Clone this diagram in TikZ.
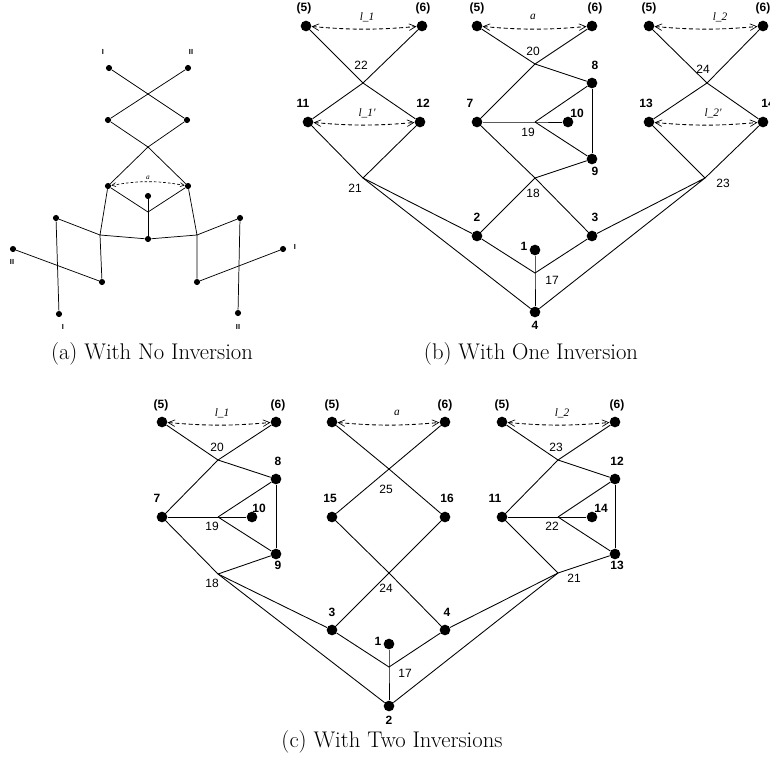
\documentclass[tikz,border=0pt]{standalone}
\usepackage{fontspec}
\newfontfamily\hv{Liberation Sans}
\newfontfamily\tm{Liberation Serif}
\usetikzlibrary{arrows.meta}
\begin{document}
\begin{tikzpicture}[x=0.75pt,y=-0.75pt,
 dotb/.style={circle,fill,inner sep=0pt,minimum size=8pt},
 dota/.style={circle,fill,inner sep=0pt,minimum size=4.6pt},
 lab/.style={font=\hv\bfseries\fontsize{9}{10}\selectfont,inner sep=0pt},
 num/.style={font=\hv\fontsize{9}{10}\selectfont,inner sep=0pt},
 ital/.style={font=\tm\itshape\fontsize{8.5}{10}\selectfont,inner sep=0pt},
 alab/.style={font=\hv\bfseries\fontsize{5.5}{6}\selectfont,inner sep=0pt},
 aital/.style={font=\tm\itshape\fontsize{5.5}{6}\selectfont,inner sep=0pt},
 edge/.style={line width=0.65pt},
 aedge/.style={line width=0.55pt},
 dashar/.style={line width=0.65pt,dash pattern=on 3pt off 2pt,
   {Straight Barb[length=5pt,width=5pt,line width=0.5pt]}-{Straight Barb[length=5pt,width=5pt,line width=0.5pt]}},
 adashar/.style={line width=0.5pt,dash pattern=on 2pt off 1.5pt,
   {Straight Barb[length=3pt,width=3pt,line width=0.4pt]}-{Straight Barb[length=3pt,width=3pt,line width=0.4pt]}},
 captext/.style={font=\fontsize{17}{20}\selectfont,inner sep=0pt}
]
\useasboundingbox (0,0) rectangle (770,768);

% ================= Panel (a) =================
\node[dota] (a1) at (109,68) {};
\node[dota] (a2) at (188,68) {};
\node[dota] (a3) at (108,120) {};
\node[dota] (a4) at (187,120) {};
\node[dota] (a5) at (108,186) {};
\node[dota] (a6) at (188,186) {};
\node[dota] (a7) at (148,196) {};
\node[dota] (a8) at (148,239) {};
\node[dota] (a9) at (56,218) {};
\node[dota] (a10) at (59,314) {};
\node[dota] (a11) at (13,249) {};
\node[dota] (a12) at (102,282) {};
\node[dota] (a13) at (240,218) {};
\node[dota] (a14) at (238,313) {};
\node[dota] (a15) at (283,249) {};
\node[dota] (a16) at (197,282) {};
\coordinate (ax2) at (148,147);
\coordinate (aj1) at (148,212);
\coordinate (aj2) at (100,235);
\coordinate (aj3) at (197,235);
\draw[aedge] (a1) -- (a4);
\draw[aedge] (a2) -- (a3);
\draw[aedge] (a3) -- (ax2) -- (a6);
\draw[aedge] (a4) -- (ax2) -- (a5);
\draw[aedge] (a5) -- (aj1) -- (a6);
\draw[aedge] (a7) -- (a8);
\draw[aedge] (a5) -- (aj2) -- (a8) -- (aj3) -- (a6);
\draw[aedge] (a9) -- (aj2) -- (a12);
\draw[aedge] (a9) -- (a10);
\draw[aedge] (a11) -- (a12);
\draw[aedge] (a13) -- (aj3) -- (a16);
\draw[aedge] (a13) -- (a14);
\draw[aedge] (a15) -- (a16);
\draw[adashar] (a5) to[bend left=10] node[aital,above=1.5pt] (la) {a} (a6);
\node[alab] (lI1) at (103,52) {I};
\node[alab] (lII1) at (191,52) {II};
\node[alab] (lII2) at (12,262) {II};
\node[alab] (lI2) at (63,327) {I};
\node[alab] (lII3) at (238,327) {II};
\node[alab] (lI3) at (295,247) {I};
\node[captext] (capa) at (152,354) {(a) With No Inversion};

% ================= Panel (b) =================
\node[dotb] (b5a) at (306,26) {};
\node[dotb] (b6a) at (422,26) {};
\node[dotb] (b11) at (308,122) {};
\node[dotb] (b12) at (420,122) {};
\node[dotb] (b5b) at (477,26) {};
\node[dotb] (b6b) at (592,26) {};
\node[dotb] (b8) at (592,83) {};
\node[dotb] (b7) at (477,122) {};
\node[dotb] (b10) at (568,122) {};
\node[dotb] (b9) at (592,159) {};
\node[dotb] (b2) at (477,236) {};
\node[dotb] (b3) at (592,236) {};
\node[dotb] (b1) at (535,250) {};
\node[dotb] (b4) at (535,312) {};
\node[dotb] (b5c) at (649,26) {};
\node[dotb] (b6c) at (763,26) {};
\node[dotb] (b13) at (649,122) {};
\node[dotb] (b14) at (763,122) {};
\coordinate (j22) at (363,83);
\coordinate (j21) at (363,178);
\coordinate (j20) at (535,64);
\coordinate (j19) at (535,122);
\coordinate (j18) at (535,178);
\coordinate (j17) at (535,273);
\coordinate (j24) at (707,83);
\coordinate (j23) at (705,178);
\draw[edge] (b5a) -- (j22) -- (b12);
\draw[edge] (b6a) -- (j22) -- (b11);
\draw[edge] (b11) -- (j21) -- (b12);
\draw[edge] (j21) -- (b2);
\draw[edge] (j21) -- (b4);
\draw[edge] (b5b) -- (j20) -- (b8);
\draw[edge] (b6b) -- (j20) -- (b7);
\draw[edge] (b7) -- (j19) -- (b10);
\draw[edge] (j19) -- (b8);
\draw[edge] (j19) -- (b9);
\draw[edge] (b8) -- (b9);
\draw[edge] (b7) -- (j18) -- (b3);
\draw[edge] (j18) -- (b9);
\draw[edge] (j18) -- (b2);
\draw[edge] (b2) -- (j17) -- (b3);
\draw[edge] (b1) -- (j17) -- (b4);
\draw[edge] (b3) -- (j23) -- (b4);
\draw[edge] (b5c) -- (j24) -- (b14);
\draw[edge] (b6c) -- (j24) -- (b13);
\draw[edge] (b13) -- (j23) -- (b14);
\draw[dashar] (b5a) to[bend right=5] (b6a);
\draw[dashar] (b11) to[bend right=5] (b12);
\draw[dashar] (b5b) to[bend right=5] (b6b);
\draw[dashar] (b5c) to[bend right=5] (b6c);
\draw[dashar] (b13) to[bend right=5] (b14);
\node[ital] (tl1) at (367,17) {l\_1};
\node[ital] (tl1p) at (367,113) {l\_1'};
\node[ital] (ta1) at (533,17) {a};
\node[ital] (tl2) at (720,17) {l\_2};
\node[ital] (tl2p) at (713,113) {l\_2'};
\node[lab] (lb5a) at (304,8) {(5)};
\node[lab] (lb6a) at (423,8) {(6)};
\node[lab] (lb11) at (303,103) {11};
\node[lab] (lb12) at (423,103) {12};
\node[lab] (lb5b) at (477,8) {(5)};
\node[lab] (lb6b) at (595,8) {(6)};
\node[lab] (lb8) at (595,65) {8};
\node[lab] (lb7) at (470,103) {7};
\node[lab] (lb10) at (577,113) {10};
\node[lab] (lb9) at (595,171) {9};
\node[lab] (lb2) at (477,217) {2};
\node[lab] (lb3) at (595,217) {3};
\node[lab] (lb1) at (524,246) {1};
\node[lab] (lb4) at (535,325) {4};
\node[lab] (lb5c) at (649,8) {(5)};
\node[lab] (lb6c) at (763,8) {(6)};
\node[lab] (lb13) at (646,103) {13};
\node[lab] (lb14) at (768,103) {14};
\node[num] (nb22) at (361,65) {22};
\node[num] (nb21) at (355,188) {21};
\node[num] (nb20) at (533,51) {20};
\node[num] (nb19) at (528,132) {19};
\node[num] (nb18) at (533,193) {18};
\node[num] (nb17) at (552,280) {17};
\node[num] (nb24) at (703,69) {24};
\node[num] (nb23) at (723,183) {23};
\node[captext] (capb) at (531,354) {(b) With One Inversion};

% ================= Panel (c) =================
\node[dotb] (c5a) at (162,422) {};
\node[dotb] (c6a) at (276,422) {};
\node[dotb] (c8) at (276,479) {};
\node[dotb] (c7) at (162,517) {};
\node[dotb] (c10) at (252,517) {};
\node[dotb] (c9) at (276,554) {};
\node[dotb] (c5b) at (332,422) {};
\node[dotb] (c6b) at (445,422) {};
\node[dotb] (c15) at (332,517) {};
\node[dotb] (c16) at (445,517) {};
\node[dotb] (c3) at (332,630) {};
\node[dotb] (c4) at (445,630) {};
\node[dotb] (c1) at (389,644) {};
\node[dotb] (c2) at (389,706) {};
\node[dotb] (c5c) at (502,422) {};
\node[dotb] (c6c) at (615,422) {};
\node[dotb] (c12) at (615,479) {};
\node[dotb] (c11) at (502,517) {};
\node[dotb] (c14) at (592,517) {};
\node[dotb] (c13) at (615,554) {};
\coordinate (k20) at (218,460);
\coordinate (k19) at (218,517);
\coordinate (k18) at (218,574);
\coordinate (k25) at (389,469);
\coordinate (k24) at (389,573);
\coordinate (k17) at (389,667);
\coordinate (k23) at (558,460);
\coordinate (k22) at (558,517);
\coordinate (k21) at (558,573);
\draw[edge] (c5a) -- (k20) -- (c8);
\draw[edge] (c6a) -- (k20) -- (c7);
\draw[edge] (c7) -- (k19) -- (c10);
\draw[edge] (k19) -- (c8);
\draw[edge] (k19) -- (c9);
\draw[edge] (c8) -- (c9);
\draw[edge] (c7) -- (k18) -- (c3);
\draw[edge] (k18) -- (c9);
\draw[edge] (k18) -- (c2);
\draw[edge] (c5b) -- (k25) -- (c16);
\draw[edge] (c6b) -- (k25) -- (c15);
\draw[edge] (c15) -- (k24) -- (c4);
\draw[edge] (c16) -- (k24) -- (c3);
\draw[edge] (c3) -- (k17) -- (c4);
\draw[edge] (c1) -- (k17) -- (c2);
\draw[edge] (c5c) -- (k23) -- (c12);
\draw[edge] (c6c) -- (k23) -- (c11);
\draw[edge] (c11) -- (k22) -- (c14);
\draw[edge] (k22) -- (c12);
\draw[edge] (k22) -- (c13);
\draw[edge] (c12) -- (c13);
\draw[edge] (c11) -- (k21) -- (c13);
\draw[edge] (k21) -- (c4);
\draw[edge] (k21) -- (c2);
\draw[dashar] (c5a) to[bend right=5] (c6a);
\draw[dashar] (c5b) to[bend right=5] (c6b);
\draw[dashar] (c5c) to[bend right=5] (c6c);
\node[ital] (tcl1) at (222,413) {l\_1};
\node[ital] (tca) at (397,413) {a};
\node[ital] (tcl2) at (562,413) {l\_2};
\node[lab] (lc5a) at (161,405) {(5)};
\node[lab] (lc6a) at (278,405) {(6)};
\node[lab] (lc8) at (278,461) {8};
\node[lab] (lc7) at (157,498) {7};
\node[lab] (lc10) at (259,508) {10};
\node[lab] (lc9) at (278,565) {9};
\node[lab] (lc5b) at (332,405) {(5)};
\node[lab] (lc6b) at (445,405) {(6)};
\node[lab] (lc15) at (330,498) {15};
\node[lab] (lc16) at (447,498) {16};
\node[lab] (lc3) at (332,612) {3};
\node[lab] (lc4) at (447,612) {4};
\node[lab] (lc1) at (378,641) {1};
\node[lab] (lc2) at (389,720) {2};
\node[lab] (lc5c) at (502,405) {(5)};
\node[lab] (lc6c) at (617,405) {(6)};
\node[lab] (lc12) at (617,461) {12};
\node[lab] (lc11) at (495,498) {11};
\node[lab] (lc14) at (601,508) {14};
\node[lab] (lc13) at (617,565) {13};
\node[num] (nc20) at (217,447) {20};
\node[num] (nc19) at (212,526) {19};
\node[num] (nc18) at (212,583) {18};
\node[num] (nc25) at (386,489) {25};
\node[num] (nc24) at (386,588) {24};
\node[num] (nc17) at (405,673) {17};
\node[num] (nc23) at (556,447) {23};
\node[num] (nc22) at (552,526) {22};
\node[num] (nc21) at (574,578) {21};
\node[captext] (capc) at (392,742) {(c) With Two Inversions};
\end{tikzpicture}
\end{document}
